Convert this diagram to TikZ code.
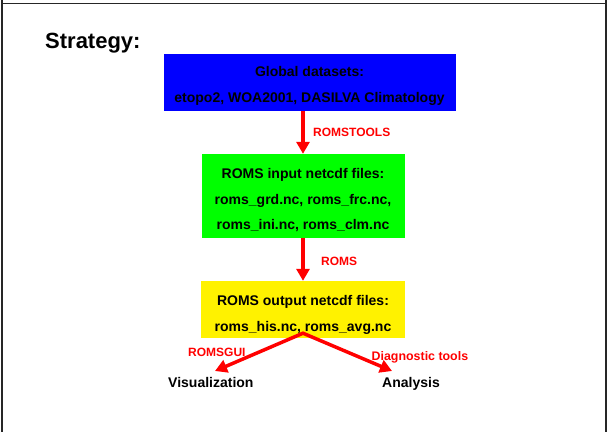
\documentclass[tikz,border=0pt]{standalone}
\usepackage{fontspec}
\setmainfont{Liberation Sans}
\usetikzlibrary{arrows.meta}
\newcommand{\boxstrut}[1]{\rule{0pt}{#1pt}}
\begin{document}
\begin{tikzpicture}[x=1pt,y=-1pt,
    box/.style={inner sep=0pt, align=center, font=\fontsize{14}{25.5}\selectfont\bfseries},
    tag/.style={red, font=\fontsize{12}{14}\selectfont\bfseries, anchor=base west, inner sep=0pt},
    item/.style={font=\fontsize{14}{16}\selectfont\bfseries, anchor=base west, inner sep=0pt},
    flow/.style={red, line width=3.5pt, line join=miter, -{Triangle[width=13pt,length=12pt]}}]
    \useasboundingbox (0,0) rectangle (608,432);
    \draw[black!85, line width=1.5pt] (2,0) -- (2,432) (606,0) -- (606,432) (2,3.5) -- (606,3.5);

    \node[item, font=\fontsize{22}{26}\selectfont\bfseries] (title) at (45,48.5) {Strategy:};

\node[box, fill=blue, minimum width=292pt, minimum height=57pt] (global) at (309.5,82.5)
    {\boxstrut{17.4}Global datasets:\\etopo2, WOA2001, DASILVA Climatology};
\node[box, fill=green, minimum width=203pt, minimum height=83.5pt] (romsin) at (303,195.75)
    {\boxstrut{19}ROMS input netcdf files:\\roms\_grd.nc, roms\_frc.nc,\\roms\_ini.nc, roms\_clm.nc};
\node[box, fill=yellow, minimum width=203.5pt, minimum height=57pt] (romsout) at (303,309.5)
    {\boxstrut{21.4}ROMS output netcdf files:\\roms\_his.nc, roms\_avg.nc};

\node[tag] (tools) at (313,136.7) {ROMSTOOLS};
\node[tag] (roms) at (321,265) {ROMS};
\node[tag] (gui) at (188,356) {ROMSGUI};
\node[tag, font=\fontsize{12.4}{14}\selectfont\bfseries] (diag) at (371.5,360) {Diagnostic tools};

\node[item] (vis) at (168,387.3) {Visualization};
\node[item] (ana) at (382,387.3) {Analysis};

\coordinate (split) at ([yshift=5pt]romsout.south);
\coordinate (visTip) at (215,371);
\coordinate (anaTip) at (392,371);

\draw[flow] (global.south -| romsin.north) -- (romsin.north);
\draw[flow] (romsin.south) -- (romsout.north);
\draw[flow, {Triangle[width=13pt,length=12pt]}-{Triangle[width=13pt,length=12pt]}] (visTip) -- (split) -- (anaTip);

\end{tikzpicture}
\end{document}
